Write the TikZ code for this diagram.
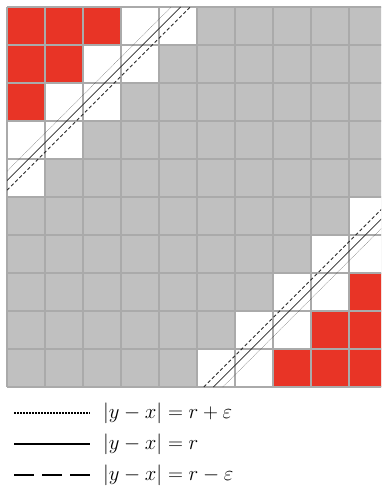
\documentclass[tikz,border=0pt]{standalone}
\begin{document}
\definecolor{cgray}{RGB}{192,192,192}
\definecolor{cgrid}{RGB}{170,170,170}
\definecolor{cred}{RGB}{232,52,38}
\definecolor{cline}{RGB}{40,40,40}
\begin{tikzpicture}[x=1pt,y=-1pt,
  gridline/.style={draw=cgrid,line width=1.1pt},
  plusline/.style={cline,line width=0.45pt,dash pattern=on 0.4pt off 0.9pt},
  midline/.style={cline,line width=0.8pt},
  minusline/.style={cline,line width=0.9pt,dash pattern=on 3.4pt off 2.4pt},
  legplus/.style={black,line width=2pt,dash pattern=on 1.6pt off 1.4pt},
  legmid/.style={black,line width=2pt},
  legminus/.style={black,line width=2pt,dash pattern=on 20pt off 8pt},
  legtext/.style={anchor=base west,inner sep=0pt,font=\fontsize{22.7}{28}\selectfont}]
\useasboundingbox (0,0) rectangle (381,487);
\begin{scope}
\clip (0,0) rectangle (381,487);
% cells
\fill[cgray] (7,7) rectangle (387,387);
\foreach \i in {0,...,9}{
  \foreach \j in {0,...,9}{
    \pgfmathtruncatemacro\s{\i+\j}
    \ifnum\s<3 \fill[cred] (7+38*\i,7+38*\j) rectangle ++(38,38);\fi
    \ifnum\s>2 \ifnum\s<5 \fill[white] (7+38*\i,7+38*\j) rectangle ++(38,38);\fi\fi
    \ifnum\s>13 \ifnum\s<16 \fill[white] (7+38*\i,7+38*\j) rectangle ++(38,38);\fi\fi
    \ifnum\s>15 \fill[cred] (7+38*\i,7+38*\j) rectangle ++(38,38);\fi
  }
}
% grid
\foreach \k in {0,...,10}{
  \draw[gridline] (7+38*\k,7) -- (7+38*\k,387);
  \draw[gridline] (7,7+38*\k) -- (387,7+38*\k);
}
% diagonal lines
\begin{scope}[shift={(7,387)},x=38pt,y=38pt]
  \clip (0,0) rectangle (10,10);
  \draw[plusline] (0,5.68) -- (4.32,10);
  \draw[midline] (0,5.43) -- (4.57,10);
  \draw[minusline] (0,5.18) -- (4.82,10);
  \draw[plusline] (5.68,0) -- (10,4.32);
  \draw[midline] (5.43,0) -- (10,4.57);
  \draw[minusline] (5.18,0) -- (10,4.82);
\end{scope}
\end{scope}
% legend
\coordinate (p1) at (14,412.5);
\coordinate (p2) at (90,412.5);
\coordinate (m1) at (14,443.5);
\coordinate (m2) at (90,443.5);
\coordinate (n1) at (14,474.5);
\coordinate (n2) at (90,474.5);
\draw[legplus] (p1) -- (p2);
\draw[legmid] (m1) -- (m2);
\draw[legminus] (n1) -- (n2);
\node[legtext] (tplus) at (103,418.5) {$|y-x|=r+\varepsilon$};
\node[legtext] (tmid) at (103,449.5) {$|y-x|=r$};
\node[legtext] (tminus) at (103,480.5) {$|y-x|=r-\varepsilon$};
\end{tikzpicture}
\end{document}
